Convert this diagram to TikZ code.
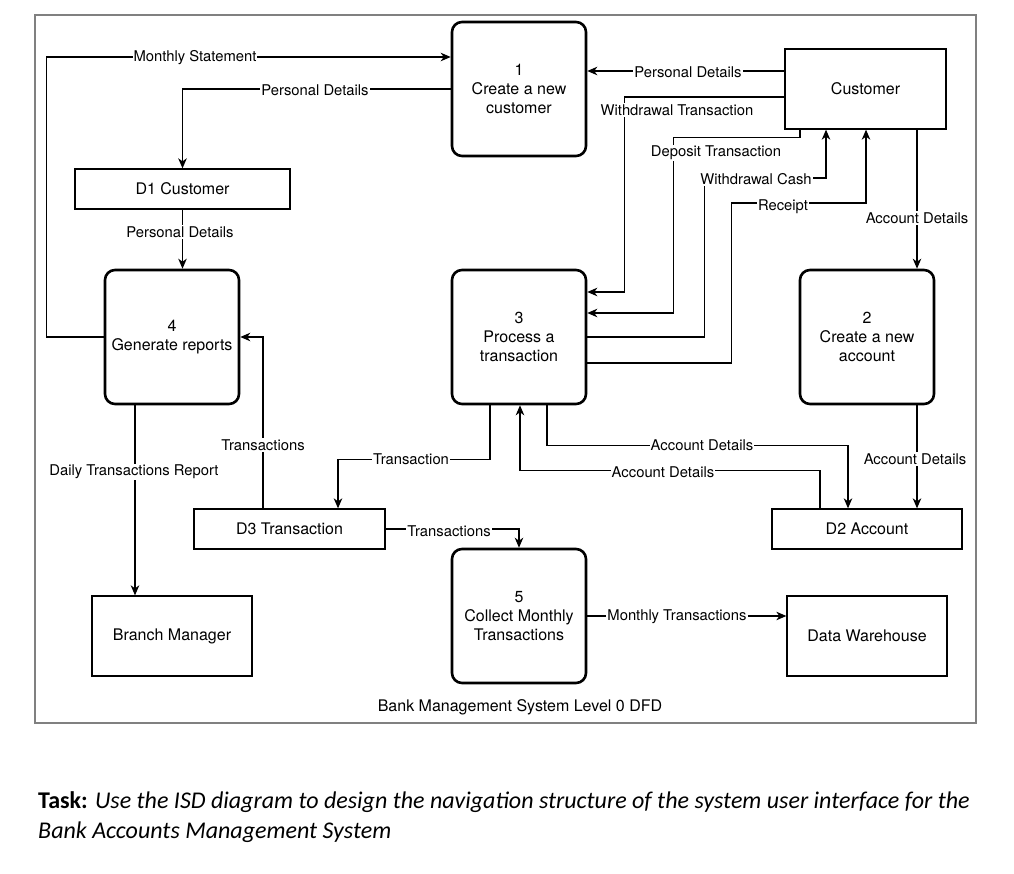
\documentclass[tikz,border=0pt]{standalone}
\usepackage{fontspec}
\setmainfont{TeX Gyre Heros}
\newfontfamily\taskfont{Carlito}
\usetikzlibrary{arrows.meta}

\begin{document}
\begin{tikzpicture}[x=1pt,y=-1pt,
  proc/.style={draw, line width=2.6pt, rounded corners=10pt, minimum width=134pt, minimum height=134pt, align=center, font=\fontsize{16}{19}\selectfont},
  ext/.style={draw, line width=1.3pt, minimum width=160pt, minimum height=80pt, font=\fontsize{16}{19}\selectfont},
  store/.style={draw, line width=1.3pt, minimum height=40pt, font=\fontsize{16}{19}\selectfont},
  flow/.style={line width=1.3pt, -{Stealth[length=10pt,width=8.5pt,inset=3pt]}},
  lbl/.style={fill=white, inner sep=1pt, font=\fontsize{14.8}{17}\selectfont}]
\useasboundingbox (0,0) rectangle (1014,874);
\fill[white] (0,0) rectangle (1014,874);
\draw[line width=1.5pt, color=gray] (35,15) rectangle (976,723);

\node[proc] (p1) at (519,89) {1\\Create a new\\customer};
\node[ext, minimum width=161pt] (cust) at (865.5,89) {Customer};
\node[store, minimum width=215pt] (d1) at (182.5,189) {D1 Customer};
\node[proc] (p4) at (172,337) {4\\Generate reports};
\node[proc] (p3) at (519,337) {3\\Process a\\transaction};
\node[proc] (p2) at (867,337) {2\\Create a new\\account};
\node[store, minimum width=191pt] (d3) at (289.5,529) {D3 Transaction};
\node[store, minimum width=190pt] (d2) at (867,529) {D2 Account};
\node[proc] (p5) at (519,616) {5\\Collect Monthly\\Transactions};
\node[ext] (bm) at (172,636) {Branch Manager};
\node[ext] (dw) at (867,636) {Data Warehouse};

\draw[flow] (p4.west) -- ++(-57,0) |- ([yshift=32pt]p1.west);
\node[lbl] at (195,58) {Monthly Statement};
\draw[flow] (p1.west) -| (d1.north);
\node[lbl] at (315,90) {Personal Details};
\draw[flow] ([yshift=18pt]cust.west) -- ([yshift=18pt]p1.east);
\node[lbl] at (688,72) {Personal Details};
\draw[flow] ([yshift=-8pt]cust.west) -| ([xshift=37pt,yshift=45pt]p3.east) -- ([yshift=45pt]p3.east);
\node[lbl] at (677,110) {Withdrawal Transaction};
\draw[flow] ([xshift=-65.5pt]cust.south) -- ++(0,8) -| ([xshift=86pt,yshift=24pt]p3.east) -- ([yshift=24pt]p3.east);
\node[lbl] at (716,153) {Deposit Transaction};
\draw[flow] (p3.east) -- ++(117,0) -- ++(0,-159) -| ([xshift=-39.5pt]cust.south);
\node[lbl] at (756,179) {Withdrawal Cash};
\draw[flow] ([yshift=-26pt]p3.east) -- ++(144,0) -- ++(0,-160) -| ([xshift=0.5pt]cust.south);
\node[lbl] at (783,207) {Receipt};
\draw[flow] ([xshift=51.5pt]cust.south) -- ([xshift=50pt]p2.north);
\node[lbl] at (917,218) {Account Details};
\draw[flow] ([xshift=50pt]p2.south) -- ([xshift=50pt]d2.north);
\node[lbl] at (915,459) {Account Details};
\draw[flow] ([xshift=28pt]p3.south) -- ++(0,40) -| ([xshift=-19pt]d2.north);
\node[lbl] at (702,445) {Account Details};
\draw[flow] ([xshift=-47pt]d2.north) -- ++(0,-38) -| ([xshift=1pt]p3.south);
\node[lbl] at (663,472) {Account Details};
\draw[flow] ([xshift=-29pt]p3.south) -- ++(0,54) -| ([xshift=48.5pt]d3.north);
\node[lbl] at (411,459) {Transaction};
\draw[flow] ([xshift=-26.5pt]d3.north) |- (p4.east);
\node[lbl] at (263,445) {Transactions};
\draw[flow] (d3.east) -| (p5.north);
\node[lbl] at (449,531) {Transactions};
\draw[flow] ([xshift=-37pt]p4.south) -- ([xshift=-37pt]bm.north);
\node[lbl] at (134,472) {Daily Transactions Report};
\draw[flow] (p5.east) -- (p5.east -| dw.west);
\node[lbl] at (677,617) {Monthly Transactions};
\draw[flow] (d1.south) -- (d1.south |- p4.north);
\node[lbl] at (180,232) {Personal Details};

\node[font=\fontsize{16}{19}\selectfont] (cap) at (520,707) {Bank Management System Level 0 DFD};

\node[anchor=base west, align=left, inner sep=0pt, font=\taskfont\fontsize{24}{30}\selectfont] (task) at (38,838)
  {\textbf{Task:} \textit{Use the ISD diagram to design the navigation structure of the system user interface for the}\\
   \textit{Bank Accounts Management System}};
\end{tikzpicture}
\end{document}
